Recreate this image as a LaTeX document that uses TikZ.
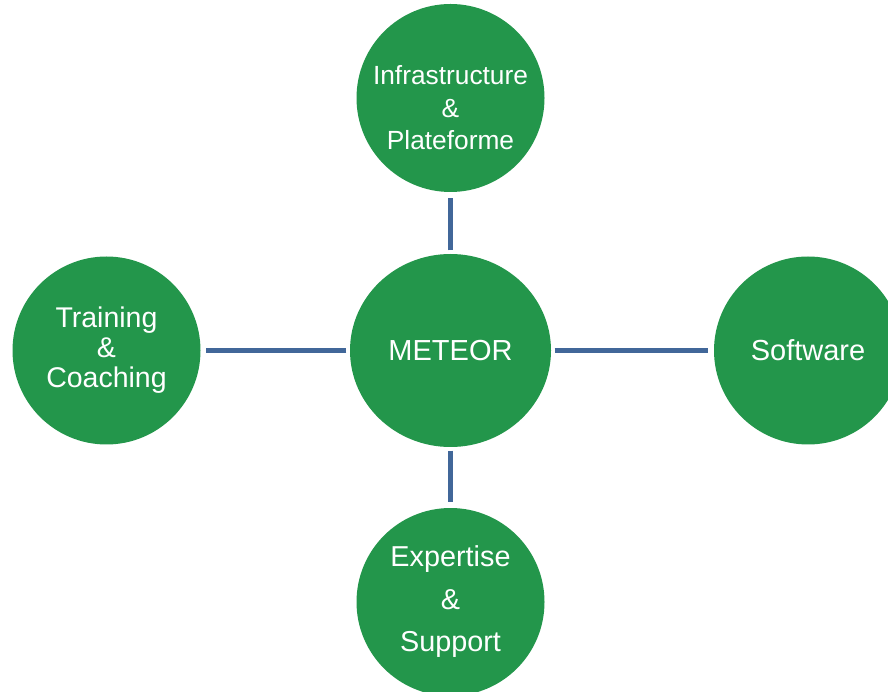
\documentclass[tikz,border=0pt]{standalone}
\usepackage{fontspec}
\setmainfont{Liberation Sans}
\usetikzlibrary{positioning,shapes.geometric}
\definecolor{bubblegreen}{RGB}{35,150,75}
\definecolor{linkblue}{RGB}{65,103,153}

\begin{document}
\begin{tikzpicture}[
hub/.style={ellipse, fill=bubblegreen, minimum width=201pt, minimum height=193pt, inner sep=0pt, text=white, align=center, font=\fontsize{29}{34}\selectfont},
pole/.style={circle, fill=bubblegreen, minimum size=188pt, inner sep=0pt, text=white, align=center},
link/.style={draw=linkblue, line width=5.5pt, shorten <=3.5pt, shorten >=5.5pt},
on grid
]
\useasboundingbox (0,0) rectangle (888pt,691pt);
%Nodes
\node[hub]	(meteor)	at (450.5pt,340.5pt)	{METEOR};
\node[pole, font=\fontsize{26.3}{32.5}\selectfont]	(infra)		[above=252.5pt of meteor]	{\rule{0pt}{39pt}Infrastructure\\ \&\\ Plateforme};
\node[pole, font=\fontsize{28.5}{30}\selectfont]	(training)	[left=344pt of meteor]		{Training\\ \&\\ Coaching};
\node[pole, font=\fontsize{29}{34}\selectfont]		(software)	[right=357.5pt of meteor]	{Software};
\node[pole, font=\fontsize{28.8}{42.5}\selectfont]	(expertise)	[below=251.5pt of meteor]	{Expertise\\ \&\\ Support};

%Lines
\draw[link] (meteor)	--	(infra);
\draw[link] (meteor)	--	(training);
\draw[link] (meteor)	--	(software);
\draw[link] (meteor)	--	(expertise);
\end{tikzpicture}
\end{document}
